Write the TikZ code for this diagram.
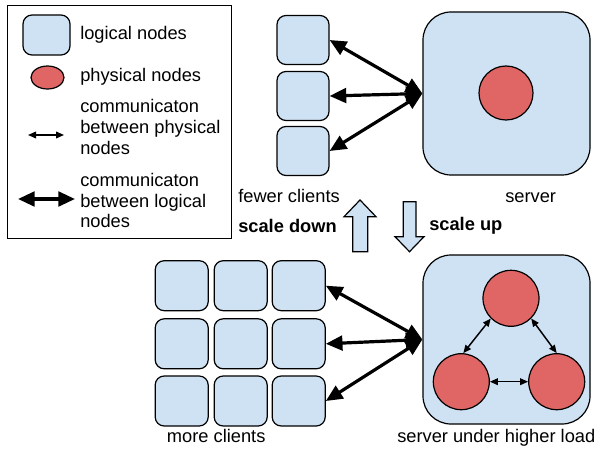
\documentclass[tikz,border=0pt]{standalone}
\usepackage{fontspec}
\setmainfont{Liberation Sans}
\usetikzlibrary{arrows.meta,shapes.geometric}
\definecolor{lblue}{HTML}{CFE2F3}
\definecolor{pred}{HTML}{E06666}
\begin{document}
\begin{tikzpicture}[x=0.75pt,y=-0.75pt,
  every node/.style={font=\fontsize{13.7}{15.75}\selectfont},
  lnode/.style={draw,fill=lblue,line width=0.9pt,rounded corners=6.75pt,inner sep=0pt},
  smallbox/.style={lnode,minimum width=39pt,minimum height=36.75pt},
  gridbox/.style={lnode,minimum width=39.75pt,minimum height=37.5pt},
  srvbox/.style={draw,fill=lblue,line width=0.9pt,rounded corners=21pt,inner sep=0pt,minimum width=125.25pt},
  pnode/.style={draw,fill=pred,line width=0.9pt,circle,inner sep=0pt},
  lbl/.style={anchor=base west,inner sep=0pt},
  thickarr/.style={line width=2.4pt,{Triangle[length=12.5pt,width=11pt]}-{Triangle[length=12.5pt,width=11pt]}},
  thinarr/.style={line width=1.1pt,{Triangle[length=6pt,width=5pt]}-{Triangle[length=6pt,width=5pt]}},
  blockarr/.style={draw,fill=lblue,line width=0.9pt,line join=miter}]
\useasboundingbox (0,0) rectangle (596,449);
% legend
\node[draw,line width=0.8pt,minimum width=168pt,minimum height=174.75pt,inner sep=0pt,anchor=north west] (legend) at (7,5) {};
\node[lnode,minimum width=35.25pt,minimum height=30pt] (legL) at (46.5,35) {};
\node[lbl] (legLt) at (80,39.5) {logical nodes};
\node[draw,fill=pred,line width=0.9pt,ellipse,inner sep=0pt,minimum width=24.75pt,minimum height=17.25pt] (legP) at (47.5,77.5) {};
\node[lbl] (legPt) at (80,82) {physical nodes};
\coordinate (ta1) at (28,135);
\coordinate (ta2) at (64,135);
\draw[thinarr] (ta1) -- (ta2);
\node[lbl] (legT1) at (80,113) {communicaton};
\node[lbl] (legT2) at (80,134) {between physical};
\node[lbl] (legT3) at (80,155) {nodes};
\coordinate (tb1) at (18,199);
\coordinate (tb2) at (75,199);
\draw[thickarr] (tb1) -- (tb2);
\node[lbl] (legK1) at (80,186) {communicaton};
\node[lbl] (legK2) at (80,207) {between logical};
\node[lbl] (legK3) at (80,228) {nodes};
% top: fewer clients
\node[smallbox] (c1) at (303,40) {};
\node[smallbox] (c2) at (303,96) {};
\node[smallbox] (c3) at (303,151) {};
\node[srvbox,minimum height=122.25pt] (srv) at (506.5,93.5) {};
\node[pnode,minimum size=40.5pt] (p0) at (506,93) {};
\draw[thickarr] (c1.east) -- (srv.west);
\draw[thickarr] (c2.east) -- (srv.west);
\draw[thickarr] (c3.east) -- (srv.west);
\node[lbl] (fc) at (238,202) {fewer clients};
\node[lbl] (sv) at (505,202) {server};
% scale arrows
\node[lbl,font=\fontsize{13.7}{15.75}\selectfont\bfseries] (sd) at (238,233) {scale down};
\node[lbl,font=\fontsize{13.7}{15.75}\selectfont\bfseries] (su) at (429,230) {scale up};
\draw[blockarr] (352.7,251.7) -- (352.7,216.7) -- (344,216.7) -- (360,200) -- (376,216.7) -- (367.7,216.7) -- (367.7,251.7) -- cycle;
\draw[blockarr] (403.3,201.7) -- (416,201.7) -- (416,236.7) -- (424,236.7) -- (409.5,251.7) -- (395,236.7) -- (403.3,236.7) -- cycle;
% bottom: more clients
\foreach \r/\y in {1/285.7,2/343.8,3/401}{
  \foreach \c/\x in {1/181.7,2/240.7,3/298.7}{
    \node[gridbox] (g\r\c) at (\x,\y) {};
  }
}
\node[srvbox,minimum height=126.75pt] (srv2) at (506.5,339.5) {};
\node[pnode,minimum size=42pt] (pt) at (511,298.3) {};
\node[pnode,minimum size=42pt] (pl) at (461.3,381.7) {};
\node[pnode,minimum size=42pt] (pr) at (556.7,381.7) {};
\draw[thinarr] (pt.225) -- (pl.86);
\draw[thinarr] (pt.315) -- (pr.90);
\draw[thinarr] (pl.east) -- (pr.west);
\draw[thickarr] (g13.east) -- (srv2.west);
\draw[thickarr] (g23.east) -- (srv2.west);
\draw[thickarr] (g33.east) -- (srv2.west);
\node[lbl] (mc) at (166.7,442) {more clients};
\node[lbl] (sl) at (397,442) {server under higher load};
\end{tikzpicture}
\end{document}
